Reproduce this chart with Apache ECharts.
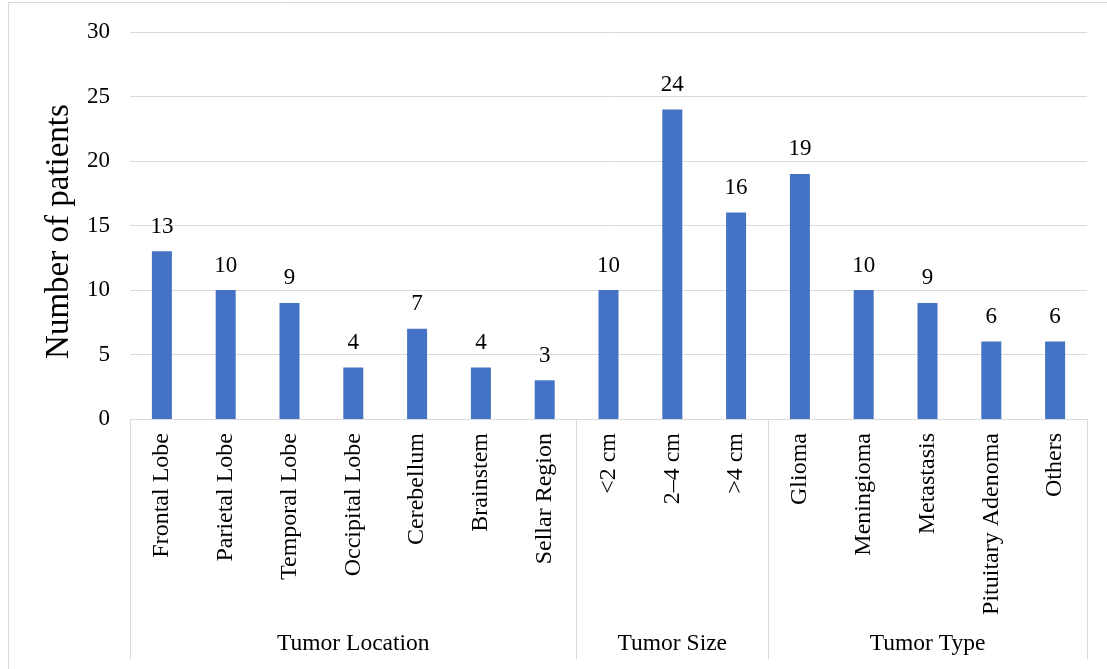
<!DOCTYPE html>
<html>
<head>
<meta charset="utf-8">
<script src="https://cdn.jsdelivr.net/npm/echarts@6/dist/echarts.min.js"></script>
<style>
  html, body { margin: 0; padding: 0; background: #fff; }
  #chart { width: 1107px; height: 669px; }
</style>
</head>
<body>
<div id="chart"></div>
<script>
// Patient counts by tumor location, size and type
const categories = [
  'Frontal Lobe', 'Parietal Lobe', 'Temporal Lobe', 'Occipital Lobe', 'Cerebellum', 'Brainstem', 'Sellar Region',
  '<2 cm', '2\u20134 cm', '>4 cm',
  'Glioma', 'Meningioma', 'Metastasis', 'Pituitary Adenoma', 'Others'
];
const patients = [13, 10, 9, 4, 7, 4, 3, 10, 24, 16, 19, 10, 9, 6, 6];
const groupNames = ['Tumor Location', 'Tumor Size', 'Tumor Type'];
const groupSizes = [7, 3, 5];
const yMin = 0, yMax = 30, yStep = 5;

// first index of each group, and the middle index where its name is centred
const groupStarts = [];
const groupMids = [];
let acc = 0;
groupSizes.forEach(function (n) {
  groupStarts.push(acc);
  groupMids.push(acc + Math.floor(n / 2));
  acc += n;
});

const FONT = "'Liberation Serif', 'Times New Roman', serif";
const LINE = '#d9d9d9';

const chart = echarts.init(document.getElementById('chart'));
chart.setOption({
  animation: false,
  backgroundColor: '#fff',
  graphic: [{
    type: 'rect',
    shape: { x: 8.5, y: 2.5, width: 1110, height: 700 },
    style: { fill: 'none', stroke: LINE, lineWidth: 1 },
    silent: true
  }],
  grid: { left: 130, right: 20, top: 32, bottom: 250 },
  xAxis: [
    {
      type: 'category',
      data: categories,
      axisLine: { show: true, lineStyle: { color: LINE, width: 1 } },
      axisTick: {
        show: true,
        length: 240,
        interval: function (index) { return groupStarts.indexOf(index) >= 0; },
        lineStyle: { color: LINE, width: 1 }
      },
      axisLabel: {
        interval: 0,
        rotate: 90,
        margin: 14,
        fontFamily: FONT,
        fontSize: 24,
        color: '#000'
      }
    },
    {
      type: 'category',
      data: categories,
      position: 'bottom',
      axisLine: { show: false },
      axisTick: { show: false },
      axisLabel: {
        interval: function (index) { return groupMids.indexOf(index) >= 0; },
        formatter: function (value, index) {
          const g = groupMids.indexOf(index);
          return g >= 0 ? groupNames[g] : '';
        },
        margin: 213,
        fontFamily: FONT,
        fontSize: 23.5,
        color: '#000'
      }
    }
  ],
  yAxis: {
    type: 'value',
    min: yMin,
    max: yMax,
    interval: yStep,
    name: 'Number of patients',
    nameLocation: 'middle',
    nameGap: 50,
    nameTextStyle: { fontFamily: FONT, fontSize: 33, color: '#000', padding: [0, 12, 0, 0] },
    axisLine: { show: false },
    axisTick: { show: false },
    axisLabel: { margin: 20, fontFamily: FONT, fontSize: 23, color: '#000' },
    splitLine: { lineStyle: { color: LINE, width: 1 } }
  },
  series: [{
    type: 'bar',
    data: patients,
    barWidth: 20,
    itemStyle: { color: '#4472C4' },
    label: {
      show: true,
      position: 'top',
      distance: 13,
      fontFamily: FONT,
      fontSize: 23,
      color: '#000'
    }
  }]
});
</script>
</body>
</html>
